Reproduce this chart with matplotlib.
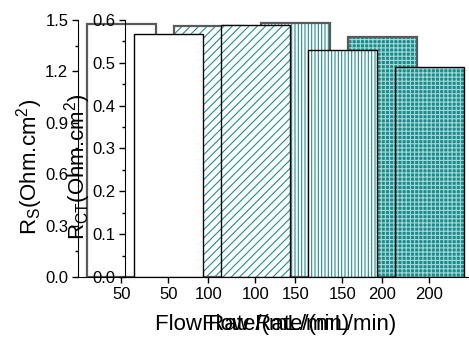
import matplotlib
matplotlib.use("Agg")
import matplotlib.pyplot as plt

plt.rcParams['font.family'] = ['Liberation Sans', 'DejaVu Sans']
plt.rcParams['mathtext.fontset'] = 'custom'
plt.rcParams['mathtext.rm'] = 'Liberation Sans'
plt.rcParams['mathtext.it'] = 'Liberation Sans:italic'
plt.rcParams['hatch.linewidth'] = 0.8

flow_rate = [50, 100, 150, 200]
r_s = [1.477, 1.462, 1.480, 1.401]
r_ct = [0.567, 0.588, 0.530, 0.490]
hatches = ['', '////', '|||||', '++++']
x_ticks = [50, 100, 150, 200]

teal = '#1f8f8f'
W = 40

fig = plt.figure(figsize=(4.69, 3.40), dpi=100)
axA = fig.add_axes([0.1663, 0.1853, 0.742, 0.756])
axB = fig.add_axes([0.2665, 0.1853, 0.742, 0.756])
axB.patch.set_alpha(0)


def draw(ax, vals, edge, lw):
    for x, v, h in zip(flow_rate, vals, hatches):
        if h.startswith('+'):
            # checker-like fill: light grid over teal
            ax.bar(x, v, W, color='#178e8e', edgecolor='#a8d6d6', hatch=h, linewidth=0)
        else:
            ax.bar(x, v, W, color='white', edgecolor=teal, hatch=h, linewidth=0)
        ax.bar(x, v, W, fill=False, edgecolor=edge, linewidth=lw)


draw(axA, r_s, '#5a5a5a', 1.6)
draw(axB, r_ct, 'black', 1.0)

for ax, top, step in [(axA, 1.5, 0.3), (axB, 0.6, 0.1)]:
    ax.set_xlim(25, 225)
    ax.set_ylim(0, top)
    ax.set_xticks(x_ticks)
    ax.set_yticks([round(i * step, 2) for i in range(int(round(top / step)) + 1)])
    ax.set_yticks([round(i * step + step / 2, 3) for i in range(int(round(top / step)))], minor=True)
    ax.yaxis.set_major_formatter(matplotlib.ticker.FormatStrFormatter('%.1f'))
    ax.spines['top'].set_visible(False)
    ax.spines['right'].set_visible(False)
    ax.tick_params(labelsize=12, length=4, width=1, pad=3)
    ax.tick_params(which='minor', length=2.5, width=1)
    ax.set_xlabel('Flow Rate/(mL/min)', fontsize=16, labelpad=9)

axA.set_ylabel(r'R$_\mathregular{S}$(Ohm.cm$^\mathregular{2}$)', fontsize=16)
axB.set_ylabel(r'R$_\mathregular{CT}$(Ohm.cm$^\mathregular{2}$)', fontsize=16)
axA.yaxis.set_label_coords(-0.094, 0.43)
axB.yaxis.set_label_coords(-0.092, 0.43)

fig.savefig('out.png', dpi=100)
